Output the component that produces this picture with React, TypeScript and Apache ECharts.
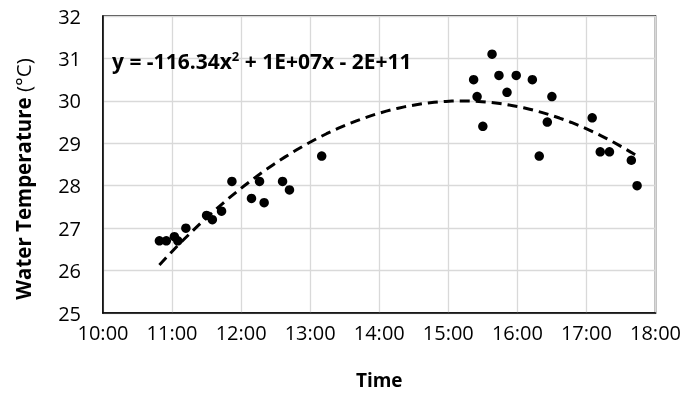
import React, { useEffect, useRef } from "react";
import * as echarts from "echarts";

// Observation clock times and water temperatures (°C)
const times: string[] = [
  "10:49", "10:55", "11:02", "11:05", "11:12", "11:30", "11:35", "11:43",
  "11:52", "12:09", "12:16", "12:20", "12:36", "12:42", "13:10", "15:22",
  "15:25", "15:30", "15:38", "15:44", "15:51", "15:59", "16:13", "16:19",
  "16:26", "16:30", "17:05", "17:12", "17:20", "17:39", "17:44",
];
const temps: number[] = [
  26.7, 26.7, 26.8, 26.7, 27.0, 27.3, 27.2, 27.4,
  28.1, 27.7, 28.1, 27.6, 28.1, 27.9, 28.7, 30.5,
  30.1, 29.4, 31.1, 30.6, 30.2, 30.6, 30.5, 28.7,
  29.5, 30.1, 29.6, 28.8, 28.8, 28.6, 28.0,
];
const xTicks: string[] = ["10:00", "11:00", "12:00", "13:00", "14:00", "15:00", "16:00", "17:00", "18:00"];
const equationText = ["y = -116.34x", "2", " + 1E+07x - 2E+11"];
const yTitle = ["Water Temperature ", "(°C)"];

const toHours = (s: string) => {
  const [h, m] = s.split(":").map(Number);
  return h + m / 60;
};

// Least-squares quadratic fit (as the spreadsheet trendline)
function quadFit(xs: number[], ys: number[]) {
  const n = xs.length;
  const mx = xs.reduce((a, b) => a + b, 0) / n;
  let s = [0, 0, 0, 0, 0];
  let t = [0, 0, 0];
  xs.forEach((x0, i) => {
    const x = x0 - mx;
    let p = 1;
    for (let k = 0; k < 5; k++) { s[k] += p; p *= x; }
    t[0] += ys[i]; t[1] += ys[i] * x; t[2] += ys[i] * x * x;
  });
  const M = [
    [s[0], s[1], s[2], t[0]],
    [s[1], s[2], s[3], t[1]],
    [s[2], s[3], s[4], t[2]],
  ];
  for (let i = 0; i < 3; i++) {
    for (let j = i + 1; j < 3; j++) {
      const f = M[j][i] / M[i][i];
      for (let k = i; k < 4; k++) M[j][k] -= f * M[i][k];
    }
  }
  const c = [0, 0, 0];
  for (let i = 2; i >= 0; i--) {
    let v = M[i][3];
    for (let k = i + 1; k < 3; k++) v -= M[i][k] * c[k];
    c[i] = v / M[i][i];
  }
  return (x: number) => c[0] + c[1] * (x - mx) + c[2] * (x - mx) * (x - mx);
}

export default function App() {
  const ref = useRef<HTMLDivElement>(null);
  useEffect(() => {
    if (!ref.current) return;
    const chart = echarts.init(ref.current, null, { renderer: "svg" });
    const hours = times.map(toHours);
    const points = hours.map((h, i) => [h, temps[i]]);
    const f = quadFit(hours, temps);
    const x0 = Math.min(...hours);
    const x1 = Math.max(...hours);
    const trend: number[][] = [];
    for (let i = 0; i <= 80; i++) {
      const x = x0 + ((x1 - x0) * i) / 80;
      trend.push([x, f(x)]);
    }
    const font = "'Open Sans', 'Liberation Sans', sans-serif";
    chart.setOption({
      animation: false,
      textStyle: { fontFamily: font },
      grid: {
        left: 103, right: 28, top: 16, bottom: 81,
        show: true, borderColor: "#000", borderWidth: 1.5,
      },
      xAxis: {
        type: "value", min: 10, max: 18, interval: 1,
        name: "Time", nameLocation: "middle", nameGap: 57,
        nameTextStyle: { fontSize: 19, fontWeight: "bold", color: "#000", fontFamily: font },
        axisLine: { show: true, lineStyle: { color: "#000", width: 1.5 } },
        axisTick: { show: false },
        axisLabel: {
          fontSize: 20, color: "#000", margin: 9, fontFamily: font,
          formatter: (v: number) => xTicks[Math.round(v - 10)] ?? "",
        },
        splitLine: { show: true, lineStyle: { color: "#d9d9d9", width: 1.3 } },
      },
      yAxis: {
        type: "value", min: 25, max: 32, interval: 1,
        axisLine: { show: true, lineStyle: { color: "#000", width: 1.5 } },
        axisTick: { show: false },
        axisLabel: { fontSize: 20, color: "#000", margin: 22, fontFamily: font },
        splitLine: { show: true, lineStyle: { color: "#d9d9d9", width: 1.3 } },
      },
      graphic: [
        {
          type: "text", left: 112, top: 49, z: 100,
          style: {
            text: `{b|${equationText[0]}}{s|${equationText[1]}}{b|${equationText[2]}}`,
            rich: {
              b: { fontSize: 21, fontWeight: "bold", fill: "#000", fontFamily: font },
              s: { fontSize: 13, fontWeight: "bold", fill: "#000", fontFamily: font, padding: [0, 0, 10, 0] },
            },
          },
        },
        {
          type: "text", x: 23, y: 179, rotation: Math.PI / 2, z: 100,
          style: {
            text: `{b|${yTitle[0]}}{n|${yTitle[1]}}`,
            align: "center", verticalAlign: "middle",
            rich: {
              b: { fontSize: 20.5, fontWeight: "bold", fill: "#000", fontFamily: font },
              n: { fontSize: 20.5, fill: "#000", fontFamily: font },
            },
          },
        },
      ],
      series: [
        {
          type: "line", data: trend, showSymbol: false, symbol: "none", smooth: false,
          lineStyle: { color: "#000", width: 3, type: [10, 6] }, z: 3,
        },
        {
          type: "scatter", data: points, symbolSize: 9.5,
          itemStyle: { color: "#000", opacity: 1 }, z: 4,
        },
      ],
    });
    return () => chart.dispose();
  }, []);
  return <div ref={ref} style={{ position: "fixed", left: 0, top: 0, width: 684, height: 394 }} />;
}
